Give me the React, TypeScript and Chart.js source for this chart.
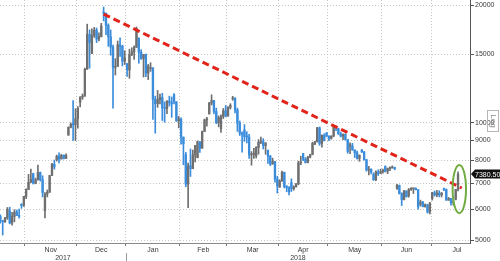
import React, { useEffect, useRef } from 'react';
import { Chart, registerables } from 'chart.js';

Chart.register(...registerables);

// Weekday sessions (Bloomberg-style chart skips weekends)
const dates: string[] = [
  '2017-10-17','2017-10-18','2017-10-19','2017-10-20','2017-10-23','2017-10-24','2017-10-25','2017-10-26','2017-10-27','2017-10-30','2017-10-31',
  '2017-11-01','2017-11-02','2017-11-03','2017-11-06','2017-11-07','2017-11-08','2017-11-09','2017-11-10','2017-11-13','2017-11-14','2017-11-15','2017-11-16','2017-11-17','2017-11-20','2017-11-21','2017-11-22','2017-11-23','2017-11-24','2017-11-27','2017-11-28','2017-11-29','2017-11-30',
  '2017-12-01','2017-12-04','2017-12-05','2017-12-06','2017-12-07','2017-12-08','2017-12-11','2017-12-12','2017-12-13','2017-12-14','2017-12-15','2017-12-18','2017-12-19','2017-12-20','2017-12-21','2017-12-22','2017-12-25','2017-12-26','2017-12-27','2017-12-28','2017-12-29',
  '2018-01-01','2018-01-02','2018-01-03','2018-01-04','2018-01-05','2018-01-08','2018-01-09','2018-01-10','2018-01-11','2018-01-12','2018-01-15','2018-01-16','2018-01-17','2018-01-18','2018-01-19','2018-01-22','2018-01-23','2018-01-24','2018-01-25','2018-01-26','2018-01-29','2018-01-30','2018-01-31',
  '2018-02-01','2018-02-02','2018-02-05','2018-02-06','2018-02-07','2018-02-08','2018-02-09','2018-02-12','2018-02-13','2018-02-14','2018-02-15','2018-02-16','2018-02-19','2018-02-20','2018-02-21','2018-02-22','2018-02-23','2018-02-26','2018-02-27','2018-02-28',
  '2018-03-01','2018-03-02','2018-03-05','2018-03-06','2018-03-07','2018-03-08','2018-03-09','2018-03-12','2018-03-13','2018-03-14','2018-03-15','2018-03-16','2018-03-19','2018-03-20','2018-03-21','2018-03-22','2018-03-23','2018-03-26','2018-03-27','2018-03-28','2018-03-29','2018-03-30',
  '2018-04-02','2018-04-03','2018-04-04','2018-04-05','2018-04-06','2018-04-09','2018-04-10','2018-04-11','2018-04-12','2018-04-13','2018-04-16','2018-04-17','2018-04-18','2018-04-19','2018-04-20','2018-04-23','2018-04-24','2018-04-25','2018-04-26','2018-04-27','2018-04-30',
  '2018-05-01','2018-05-02','2018-05-03','2018-05-04','2018-05-07','2018-05-08','2018-05-09','2018-05-10','2018-05-11','2018-05-14','2018-05-15','2018-05-16','2018-05-17','2018-05-18','2018-05-21','2018-05-22','2018-05-23','2018-05-24','2018-05-25','2018-05-28','2018-05-29','2018-05-30','2018-05-31',
  '2018-06-01','2018-06-04','2018-06-05','2018-06-06','2018-06-07','2018-06-08','2018-06-11','2018-06-12','2018-06-13','2018-06-14','2018-06-15','2018-06-18','2018-06-19','2018-06-20','2018-06-21','2018-06-22','2018-06-25','2018-06-26','2018-06-27','2018-06-28','2018-06-29',
  '2018-07-02','2018-07-03','2018-07-04','2018-07-05','2018-07-06','2018-07-09','2018-07-10','2018-07-11','2018-07-12','2018-07-13','2018-07-16','2018-07-17',
];

const opens: number[] = [
  5750,5600,5570,5700,5930,5530,5750,5900,5780,6150,6130,
  6470,6740,7030,7400,6990,7140,7460,7140,5950,6560,6630,7320,7820,8040,8200,8070,8250,8100,9290,9730,9910,9880,
  10230,11290,11620,11700,13710,16860,15060,16730,17280,16390,16610,19140,19110,17780,16620,15630,13860,13950,15840,15720,14380,
  14160,13660,14980,15200,15600,16480,15170,14600,14970,13410,13770,13820,11490,11190,11470,11600,10930,10870,11360,11260,11790,11310,10110,
  10220,9170,8280,6960,7750,7620,8270,8130,8930,8600,9490,10170,10550,11230,11400,10690,10000,9660,10370,10730,
  10400,10950,11510,11570,10780,9970,9400,9580,9210,9190,8270,8300,8220,8630,8910,8930,8730,8500,8210,7830,7950,7170,
  6840,7080,7460,6850,6810,7020,6770,6840,6970,7890,8330,8060,7900,8160,8300,8800,8930,9700,8850,9280,9420,
  9240,9120,9240,9740,9660,9370,9240,9330,9040,8720,8720,8510,8370,8100,8510,8420,8040,7560,7590,7370,7140,7470,7410,
  7490,7720,7510,7630,7650,7680,6790,6910,6580,6350,6680,6500,6740,6770,6780,6730,6170,6260,6090,6160,5900,
  6390,6610,6530,6600,6530,6770,6740,6330,6390,6230,6360,6740,
];

const highs: number[] = [
  5800,5620,5720,6060,6070,5890,5980,5970,6000,6200,6470,
  6770,7370,7600,7420,7210,7780,7470,7310,6620,6720,7330,7870,8020,8260,8370,8300,8270,8320,9760,9990,11400,10860,
  11000,11660,11850,13800,17900,17300,17400,17560,17500,17000,17990,19800,19120,17930,17300,15820,14600,16200,16500,15800,15300,
  14200,15440,15570,15740,17600,16500,15390,14970,15000,14110,14250,13840,11700,12100,11840,11900,11310,11390,11700,11640,11880,11330,10380,
  10290,9200,8390,7880,8560,8510,8740,8980,8950,9520,10220,10320,11280,11790,11420,10900,10410,10480,10880,11070,
  11000,11190,11690,11580,10900,10100,9470,9890,9480,9340,8430,8600,8680,9050,9180,9100,8880,8510,8240,8110,7960,7290,
  7140,7510,7470,6900,6860,7180,6890,6980,7970,8200,8340,8140,8200,8300,8910,8960,9730,9750,9310,9370,9430,
  9250,9260,9800,9750,9680,9460,9370,9370,9060,8880,8850,8520,8460,8270,8540,8430,8050,7730,7620,7440,7530,7570,7600,
  7600,7750,7650,7700,7750,7690,6950,6920,6610,6710,6690,6780,6820,6800,6810,6740,6330,6280,6190,6170,6250,
  6630,6680,6710,6690,6620,6800,6760,6430,6400,6330,6740,7480,
];

const lows: number[] = [
  5520,5150,5550,5650,5500,5460,5570,5780,5690,6030,6100,
  6380,6740,7030,6960,6970,7120,7080,6450,5700,6450,6630,7320,7600,7970,7880,8070,8070,8080,9290,9700,9000,9000,
  9680,10980,11480,11700,13710,13800,15030,16550,16050,16200,16610,18250,16810,15700,14900,10900,13250,13950,14800,13990,14100,
  13150,13000,14860,14530,15600,14210,14540,13100,13130,12900,13540,10200,9400,10950,11180,10130,10030,10550,11030,10320,11180,10080,9700,
  8810,7800,6850,6050,7280,7620,7930,8130,8390,8600,9490,9800,10510,11100,10550,9940,9760,9440,10250,10360,
  10390,10840,11410,10590,9500,9270,8400,8960,8870,8100,7780,8100,8120,8300,8830,8560,8300,7860,7760,7830,7040,6600,
  6820,7080,6800,6650,6530,6660,6710,6840,6930,7800,7990,7880,7890,8120,8270,8800,8930,8750,8660,8980,9200,
  8990,9070,9200,9540,9330,9190,9040,9030,8350,8330,8500,8140,8060,7960,8380,8010,7510,7350,7390,7110,7100,7320,7400,
  7420,7470,7400,7530,7650,7570,6740,6560,6130,6340,6440,6440,6700,6580,6720,6000,6110,6080,6070,5860,5830,
  6330,6480,6460,6450,6450,6690,6320,6320,6140,6140,6340,6680,
];

const closes: number[] = [
  5600,5570,5700,6000,5530,5750,5900,5780,5750,6130,6470,
  6740,7030,7150,6990,7140,7460,7140,6620,6560,6630,7320,7820,7700,8200,8070,8250,8100,8250,9730,9910,9880,10230,
  10880,11620,11700,13710,16860,16060,16730,17280,16390,16610,17710,19110,17780,16620,15630,13880,13950,15840,15720,14380,14650,
  13660,14980,15200,15600,17430,15170,14600,14970,13410,13980,13820,11490,11190,11470,11610,10930,10870,11360,11260,11170,11310,10110,10220,
  9170,8830,6960,7750,7620,8270,8740,8930,8600,9490,10170,10230,11230,11400,10690,10000,10300,10370,10730,10400,
  10950,11090,11570,10780,9970,9400,9340,9210,9190,8270,8300,8340,8630,8910,8930,8730,8880,8210,7830,7950,7170,6890,
  7080,7460,6850,6810,6640,6770,6840,6970,7890,7900,8060,7900,8160,8300,8850,8930,9700,8850,9280,8990,9240,
  9120,9240,9740,9700,9370,9240,9330,9040,8440,8720,8510,8370,8100,8250,8420,8040,7560,7590,7480,7140,7470,7410,7490,
  7540,7510,7630,7650,7680,7620,6910,6580,6350,6680,6460,6740,6770,6780,6730,6080,6260,6090,6160,5900,6220,
  6610,6530,6600,6530,6600,6740,6330,6390,6230,6240,6740,7380.5,
];

const yTickValues = [5000, 6000, 7000, 8000, 9000, 10000, 15000, 20000];
const monthLabels = ['Nov', 'Dec', 'Jan', 'Feb', 'Mar', 'Apr', 'May', 'Jun', 'Jul'];
const yearLabels = ['2017', '2018'];
const lastMonthWeekdays = 22;

// Trend line endpoints (session index, price)
const trendStart = { x: 44, y: 19000 };
const trendEnd = { x: 196.6, y: 6800 };
// Highlight ellipse around the last sessions (session index / price bounds)
const ellipseBox = { left: 192.7, right: 198.4, top: 7790, bottom: 5860 };

const X_MIN = -0.15;
const X_MAX = 200.1;
const Y_MIN = 4913;
const Y_MAX = 20645;

const UP = '#6f6f6f';
const DOWN = '#3b8ddc';
const FONT = "'Liberation Sans', Arial, sans-serif";

const monthOf = (d: string) => d.slice(0, 7);
const monthBoundaries: number[] = [];
for (let i = 1; i < dates.length; i++) {
  if (monthOf(dates[i]) !== monthOf(dates[i - 1])) monthBoundaries.push(i - 0.5);
}
const monthCenters: number[] = monthBoundaries.map((b, i) =>
  i < monthBoundaries.length - 1 ? (b + monthBoundaries[i + 1]) / 2 : b + lastMonthWeekdays / 2
);
const yearBoundary = monthBoundaries.find((b) => dates[Math.ceil(b)].slice(5, 7) === '01') as number;
const yearCenters = [(X_MIN + yearBoundary) / 2, (yearBoundary + X_MAX) / 2];

const overlayPlugin = {
  id: 'overlay',
  afterDraw(chart: any) {
    const { ctx } = chart;
    const xs = chart.scales.x;
    const ys = chart.scales.y;
    const x3 = chart.scales.x3;
    ctx.save();

    // green ellipse
    const l = xs.getPixelForValue(ellipseBox.left);
    const r = xs.getPixelForValue(ellipseBox.right);
    const t = ys.getPixelForValue(ellipseBox.top);
    const b = ys.getPixelForValue(ellipseBox.bottom);
    ctx.beginPath();
    ctx.ellipse((l + r) / 2, (t + b) / 2, (r - l) / 2, (b - t) / 2, 0, 0, Math.PI * 2);
    ctx.strokeStyle = '#72ad44';
    ctx.lineWidth = 2;
    ctx.stroke();

    // year separator
    const sx = Math.round(xs.getPixelForValue(yearBoundary)) + 0.5;
    ctx.beginPath();
    ctx.moveTo(sx, x3.top - 1);
    ctx.lineTo(sx, x3.bottom);
    ctx.strokeStyle = '#9a9a9a';
    ctx.lineWidth = 1;
    ctx.stroke();

    // last price tag
    const last = closes[closes.length - 1];
    const py = ys.getPixelForValue(last);
    const ax = ys.left;
    ctx.beginPath();
    ctx.moveTo(ax + 1, py);
    ctx.lineTo(ax + 5, py - 4.5);
    ctx.lineTo(chart.width, py - 4.5);
    ctx.lineTo(chart.width, py + 4.5);
    ctx.lineTo(ax + 5, py + 4.5);
    ctx.closePath();
    ctx.fillStyle = '#111';
    ctx.fill();
    ctx.fillStyle = '#fff';
    ctx.font = `7px ${FONT}`;
    ctx.textBaseline = 'middle';
    ctx.textAlign = 'left';
    ctx.fillText(last.toFixed(2), ax + 5, py + 0.5);

    // "Log" box
    const bx = ax + 17.5;
    const by = 110.5;
    ctx.strokeStyle = '#b5b5b5';
    ctx.lineWidth = 1;
    ctx.strokeRect(bx, by, 11, 21);
    ctx.translate(bx + 5.5, by + 10.5);
    ctx.rotate(Math.PI / 2);
    ctx.fillStyle = '#8a8a8a';
    ctx.font = `8px ${FONT}`;
    ctx.textAlign = 'center';
    ctx.textBaseline = 'middle';
    ctx.fillText('Log', 0, 0);

    ctx.restore();
  },
};

export default function App() {
  const ref = useRef<HTMLCanvasElement | null>(null);

  useEffect(() => {
    if (!ref.current) return;
    const colors = closes.map((c, i) => (c >= opens[i] ? UP : DOWN));
    const bodies = dates.map((_, i) => ({ x: i, y: [Math.min(opens[i], closes[i]), Math.max(opens[i], closes[i])] }));
    const wicks = dates.map((_, i) => ({ x: i, y: [lows[i], highs[i]] }));
    const tickFont = { family: FONT, size: 7 };

    const chart = new Chart(ref.current, {
      type: 'bar',
      data: {
        datasets: [
          {
            type: 'line',
            data: [trendStart, trendEnd],
            borderColor: '#e2231a',
            borderWidth: 3,
            borderDash: [7, 4],
            pointRadius: 0,
            order: 0,
          } as any,
          {
            type: 'bar',
            data: bodies,
            backgroundColor: colors,
            barThickness: 1.7,
            grouped: false,
            minBarLength: 1,
            order: 1,
          } as any,
          {
            type: 'bar',
            data: wicks,
            backgroundColor: colors,
            barThickness: 1,
            grouped: false,
            order: 2,
          } as any,
        ],
      },
      options: {
        animation: false,
        responsive: false,
        maintainAspectRatio: false,
        layout: { padding: 0 },
        plugins: { legend: { display: false }, tooltip: { enabled: false } },
        scales: {
          x: {
            type: 'linear',
            min: X_MIN,
            max: X_MAX,
            bounds: 'data',
            offset: false,
            weight: 0,
            afterBuildTicks: (s: any) => {
              s.ticks = monthBoundaries.map((v) => ({ value: v }));
            },
            afterFit: (s: any) => {
              s.height = 3;
              s.paddingLeft = 0;
              s.paddingRight = 0;
            },
            ticks: { display: false },
            grid: {
              offset: false,
              color: '#c6c6c6',
              lineWidth: 1,
              drawTicks: true,
              tickLength: 3,
              tickColor: '#777',
              tickBorderDash: [],
            },
            border: { display: true, color: '#8a8a8a', width: 1, dash: [1, 2] },
          },
          x2: {
            type: 'linear',
            position: 'bottom',
            min: X_MIN,
            max: X_MAX,
            bounds: 'data',
            offset: false,
            weight: 1,
            afterBuildTicks: (s: any) => {
              s.ticks = monthCenters.map((v) => ({ value: v }));
            },
            afterFit: (s: any) => {
              s.height = 8;
              s.paddingLeft = 0;
              s.paddingRight = 0;
            },
            ticks: {
              callback: (_v: any, i: number) => monthLabels[i],
              autoSkip: false,
              maxRotation: 0,
              padding: 0,
              color: '#3a3a3a',
              font: tickFont,
            },
            grid: { display: false, drawTicks: false },
            border: { display: false },
          },
          x3: {
            type: 'linear',
            position: 'bottom',
            min: X_MIN,
            max: X_MAX,
            bounds: 'data',
            offset: false,
            weight: 2,
            afterBuildTicks: (s: any) => {
              s.ticks = yearCenters.map((v) => ({ value: v }));
            },
            afterFit: (s: any) => {
              s.height = 7;
              s.paddingLeft = 0;
              s.paddingRight = 0;
            },
            ticks: {
              callback: (_v: any, i: number) => yearLabels[i],
              autoSkip: false,
              maxRotation: 0,
              padding: 0,
              color: '#3a3a3a',
              font: tickFont,
            },
            grid: { display: false, drawTicks: false },
            border: { display: false },
          },
          y: {
            type: 'logarithmic',
            position: 'right',
            min: Y_MIN,
            max: Y_MAX,
            bounds: 'data',
            afterBuildTicks: (s: any) => {
              s.ticks = yTickValues.map((v) => ({ value: v }));
            },
            afterFit: (s: any) => {
              s.width = 30;
              s.paddingTop = 0;
              s.paddingBottom = 0;
            },
            ticks: {
              callback: (v: any) => String(v),
              autoSkip: false,
              padding: 1,
              color: '#3a3a3a',
              font: tickFont,
            },
            grid: {
              color: '#c6c6c6',
              lineWidth: 1,
              tickLength: 4,
              tickColor: '#555',
              tickBorderDash: [],
            },
            border: { display: true, color: '#555', width: 1, dash: [1, 2] },
          },
        } as any,
      },
      plugins: [overlayPlugin],
    });

    return () => chart.destroy();
  }, []);

  return (
    <div style={{ position: 'absolute', left: 0, top: 0, width: 500, height: 261, background: '#fff' }}>
      <canvas ref={ref} width={500} height={261} style={{ display: 'block' }} />
    </div>
  );
}
